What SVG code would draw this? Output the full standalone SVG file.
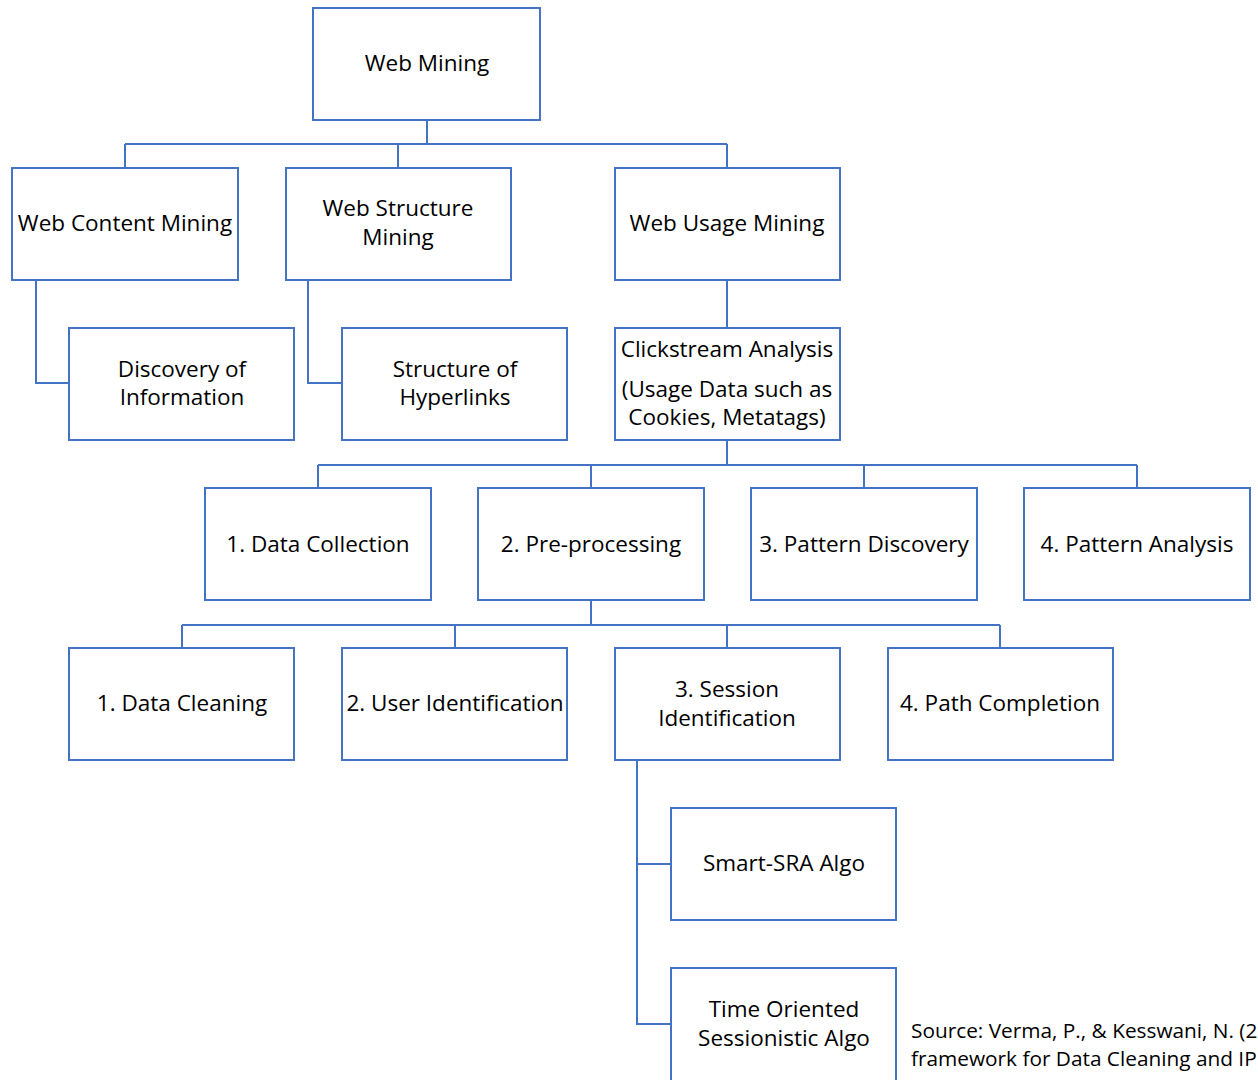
<svg xmlns="http://www.w3.org/2000/svg" width="1258" height="1080" viewBox="0 0 1258 1080">
<style>
.box{fill:#fff;stroke:#4472C4;stroke-width:2}
.ln{fill:none;stroke:#4472C4;stroke-width:2}
text{font-family:"Open Sans","Noto Sans",sans-serif;font-size:22.5px;fill:#000;text-anchor:middle}
.src{text-anchor:start;font-size:20.8px}
</style>
<rect width="1258" height="1080" fill="#fff"/>
<g id="connectors">
<path class="ln" d="M427 120V144M125 144H727M125 144V168M398 144V168M727 144V168"/>
<path class="ln" d="M36 280V383H69"/>
<path class="ln" d="M308 280V383H342"/>
<path class="ln" d="M727 280V328"/>
<path class="ln" d="M727 440V465M318 465H1137M318 465V488M591 465V488M864 465V488M1137 465V488"/>
<path class="ln" d="M591 600V625M182 625H1000M182 625V648M455 625V648M727 625V648M1000 625V648"/>
<path class="ln" d="M637 760V1024H671M637 864H671"/>
</g>
<g id="web-mining"><rect class="box" x="313" y="8" width="227" height="112"/><text x="427" y="71">Web Mining</text></g>
<g id="web-content-mining"><rect class="box" x="12" y="168" width="226" height="112"/><text x="125" y="231">Web Content Mining</text></g>
<g id="web-structure-mining"><rect class="box" x="286" y="168" width="225" height="112"/><text x="398" y="216">Web Structure</text><text x="398" y="245">Mining</text></g>
<g id="web-usage-mining"><rect class="box" x="615" y="168" width="225" height="112"/><text x="727" y="231">Web Usage Mining</text></g>
<g id="discovery-of-information"><rect class="box" x="69" y="328" width="225" height="112"/><text x="182" y="377">Discovery of</text><text x="182" y="405">Information</text></g>
<g id="structure-of-hyperlinks"><rect class="box" x="342" y="328" width="225" height="112"/><text x="455" y="377">Structure of</text><text x="455" y="405">Hyperlinks</text></g>
<g id="clickstream-analysis"><rect class="box" x="615" y="328" width="225" height="112"/><text x="727" y="357">Clickstream Analysis</text><text x="727" y="397">(Usage Data such as</text><text x="727" y="425">Cookies, Metatags)</text></g>
<g id="data-collection"><rect class="box" x="205" y="488" width="226" height="112"/><text x="318" y="552">1. Data Collection</text></g>
<g id="pre-processing"><rect class="box" x="478" y="488" width="226" height="112"/><text x="591" y="552">2. Pre-processing</text></g>
<g id="pattern-discovery"><rect class="box" x="751" y="488" width="226" height="112"/><text x="864" y="552">3. Pattern Discovery</text></g>
<g id="pattern-analysis"><rect class="box" x="1024" y="488" width="226" height="112"/><text x="1137" y="552">4. Pattern Analysis</text></g>
<g id="data-cleaning"><rect class="box" x="69" y="648" width="225" height="112"/><text x="182" y="711">1. Data Cleaning</text></g>
<g id="user-identification"><rect class="box" x="342" y="648" width="225" height="112"/><text x="455" y="711">2. User Identification</text></g>
<g id="session-identification"><rect class="box" x="615" y="648" width="225" height="112"/><text x="727" y="697">3. Session</text><text x="727" y="726">Identification</text></g>
<g id="path-completion"><rect class="box" x="888" y="648" width="225" height="112"/><text x="1000" y="711">4. Path Completion</text></g>
<g id="smart-sra-algo"><rect class="box" x="671" y="808" width="225" height="112"/><text x="784" y="871">Smart-SRA Algo</text></g>
<g id="time-oriented"><rect class="box" x="671" y="968" width="225" height="130"/><text x="784" y="1017">Time Oriented</text><text x="784" y="1046">Sessionistic Algo</text></g>
<text class="src" x="911" y="1038">Source: Verma, P., &amp; Kesswani, N. (2</text>
<text class="src" x="911" y="1066">framework for Data Cleaning and IP</text>
</svg>
